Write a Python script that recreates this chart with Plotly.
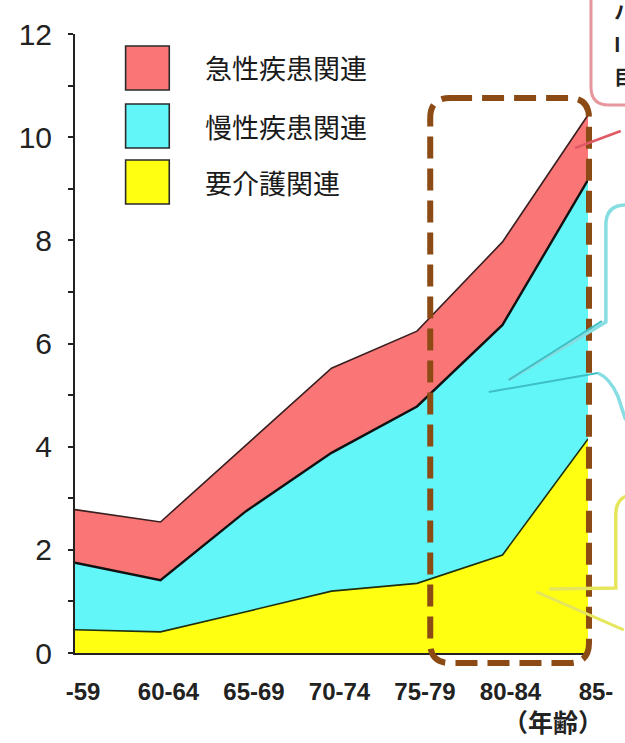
import plotly.graph_objects as go

# Age groups on the horizontal axis
age_groups = ["-59", "60-64", "65-69", "70-74", "75-79", "80-84", "85-"]

# Stacked components (bottom to top)
care_related = [0.45, 0.41, 0.80, 1.20, 1.35, 1.90, 4.15]      # 要介護関連
chronic_related = [1.30, 1.00, 1.95, 2.68, 3.43, 4.46, 5.02]   # 慢性疾患関連
acute_related = [1.03, 1.13, 1.28, 1.64, 1.46, 1.61, 1.26]     # 急性疾患関連

series_names = ["要介護関連", "慢性疾患関連", "急性疾患関連"]
fill_colors = ["#FFFF12", "#62F6F9", "#FA7676"]
edge_colors = ["#1E2E10", "#111111", "#3A2020"]
edge_widths = [1.6, 2.4, 1.6]

y_ticks = [0, 2, 4, 6, 8, 10, 12]

x_pos = list(range(len(age_groups)))

# Plot area in page pixels (used for overlay shapes)
L, R, T, B = 75, 592, 34, 653
W, H = 625, 743


def px(x):
    return (x - L) / (R - L)


def py(y):
    return (B - y) / (B - T)


def pt(x, y):
    return f"{px(x):.5f},{py(y):.5f}"


def rounded_rect(x0, y0, x1, y1, r):
    return (
        f"M {pt(x0 + r, y0)} L {pt(x1 - r, y0)} Q {pt(x1, y0)} {pt(x1, y0 + r)} "
        f"L {pt(x1, y1 - r)} Q {pt(x1, y1)} {pt(x1 - r, y1)} "
        f"L {pt(x0 + r, y1)} Q {pt(x0, y1)} {pt(x0, y1 - r)} "
        f"L {pt(x0, y0 + r)} Q {pt(x0, y0)} {pt(x0 + r, y0)} Z"
    )


fig = go.Figure()
for name, vals, fc, ec, lw in zip(series_names,
                                  [care_related, chronic_related, acute_related],
                                  fill_colors, edge_colors, edge_widths):
    fig.add_trace(go.Scatter(
        x=x_pos, y=vals, name=name, mode="lines",
        stackgroup="one", fillcolor=fc,
        line=dict(color=ec, width=lw, shape="linear"),
        hoverinfo="skip", showlegend=False,
    ))

shapes = []

# Legend swatches
swatch_rows = [(46, 90, fill_colors[2]), (104, 148, fill_colors[1]), (160, 204, fill_colors[0])]
for y0, y1, c in swatch_rows:
    shapes.append(dict(type="rect", xref="paper", yref="paper",
                       x0=px(126), x1=px(170), y0=py(y1), y1=py(y0),
                       fillcolor=c, line=dict(color="#2A2A2A", width=1.6)))

# Highlight frame around the 75+ age groups
shapes.append(dict(type="path", xref="paper", yref="paper",
                   path=rounded_rect(433, 98, 593, 663, 20),
                   line=dict(color="#8C4A14", width=6, dash="22px,10px")))

# Callout boxes on the right edge
shapes.append(dict(type="path", xref="paper", yref="paper",
                   path=rounded_rect(595, -40, 720, 105, 18),
                   fillcolor="rgba(255,255,255,0)",
                   line=dict(color="#E7969E", width=3)))
shapes.append(dict(type="path", xref="paper", yref="paper",
                   path=f"M {pt(625, 131)} L {pt(579, 148)}",
                   line=dict(color="#E05A66", width=2.5)))

shapes.append(dict(type="path", xref="paper", yref="paper",
                   path=(f"M {pt(640, 205)} L {pt(630, 205)} Q {pt(610, 205)} {pt(610, 225)} "
                         f"L {pt(610, 322)} L {pt(512, 380)}"),
                   line=dict(color="#86DEE2", width=3.5)))
shapes.append(dict(type="path", xref="paper", yref="paper",
                   path=f"M {pt(606, 321)} L {pt(512, 380)}",
                   line=dict(color="#3DBFC4", width=2)))
shapes.append(dict(type="path", xref="paper", yref="paper",
                   path=f"M {pt(492, 392)} L {pt(602, 373)}",
                   line=dict(color="#3DBFC4", width=2)))
shapes.append(dict(type="path", xref="paper", yref="paper",
                   path=f"M {pt(602, 373)} Q {pt(614, 378)} {pt(622, 396)} L {pt(630, 420)}",
                   line=dict(color="#86DEE2", width=3.5)))

shapes.append(dict(type="path", xref="paper", yref="paper",
                   path=(f"M {pt(645, 495)} L {pt(635, 495)} Q {pt(620, 497)} {pt(620, 515)} "
                         f"L {pt(620, 588)} L {pt(553, 589)}"),
                   line=dict(color="#E6E65C", width=3.5)))
shapes.append(dict(type="path", xref="paper", yref="paper",
                   path=f"M {pt(540, 592)} L {pt(628, 630)}",
                   line=dict(color="#E6E65C", width=3)))

annotations = []
legend_texts = [(68, series_names[2]), (126, series_names[1]), (182, series_names[0])]
for yc, txt in legend_texts:
    annotations.append(dict(xref="paper", yref="paper", x=px(204), y=py(yc),
                            text=txt, showarrow=False, xanchor="left", yanchor="middle",
                            font=dict(family="Noto Sans CJK JP", size=27, color="#1A1A1A")))

annotations.append(dict(xref="paper", yref="paper", x=px(557), y=py(721),
                        text="<b>（年齢）</b>", showarrow=False, xanchor="center", yanchor="middle",
                        font=dict(family="Noto Sans CJK JP", size=25, color="#222222"),
                        ))

# Partly visible callout text at the right edge
for yc, ch in [(12, "ハ"), (43, "I"), (76, "目")]:
    annotations.append(dict(xref="paper", yref="paper", x=px(616), y=py(yc),
                            text=f"<b>{ch}</b>", showarrow=False, xanchor="left", yanchor="middle",
                            font=dict(family="Noto Sans CJK JP", size=20, color="#222222")))

fig.update_layout(
    width=W, height=H,
    margin=dict(l=L, r=W - R, t=T, b=H - B),
    paper_bgcolor="white", plot_bgcolor="white",
    shapes=shapes, annotations=annotations,
    showlegend=False,
    xaxis=dict(
        range=[0, 6], tickvals=x_pos, ticktext=[f"<b>{a}</b>" for a in age_groups],
        showgrid=False, zeroline=False, showline=True, linecolor="#222222", linewidth=2,
        ticks="", ticklabelstandoff=16, ticklabelshift=8,
        tickfont=dict(family="Liberation Sans", size=24, color="#222222"),
        fixedrange=True,
    ),
    yaxis=dict(
        range=[0, 12], tickvals=y_ticks, ticktext=[str(v) for v in y_ticks],
        showgrid=False, zeroline=False, showline=True, linecolor="#222222", linewidth=2,
        ticks="outside", ticklen=5, tickwidth=1.5, tickcolor="#222222",
        minor=dict(dtick=1, ticks="outside", ticklen=5, tickwidth=1.5, tickcolor="#222222"),
        ticklabelstandoff=10,
        tickfont=dict(family="Liberation Sans", size=30, color="#222222"),
        fixedrange=True,
    ),
)

fig.write_html("out.html")
